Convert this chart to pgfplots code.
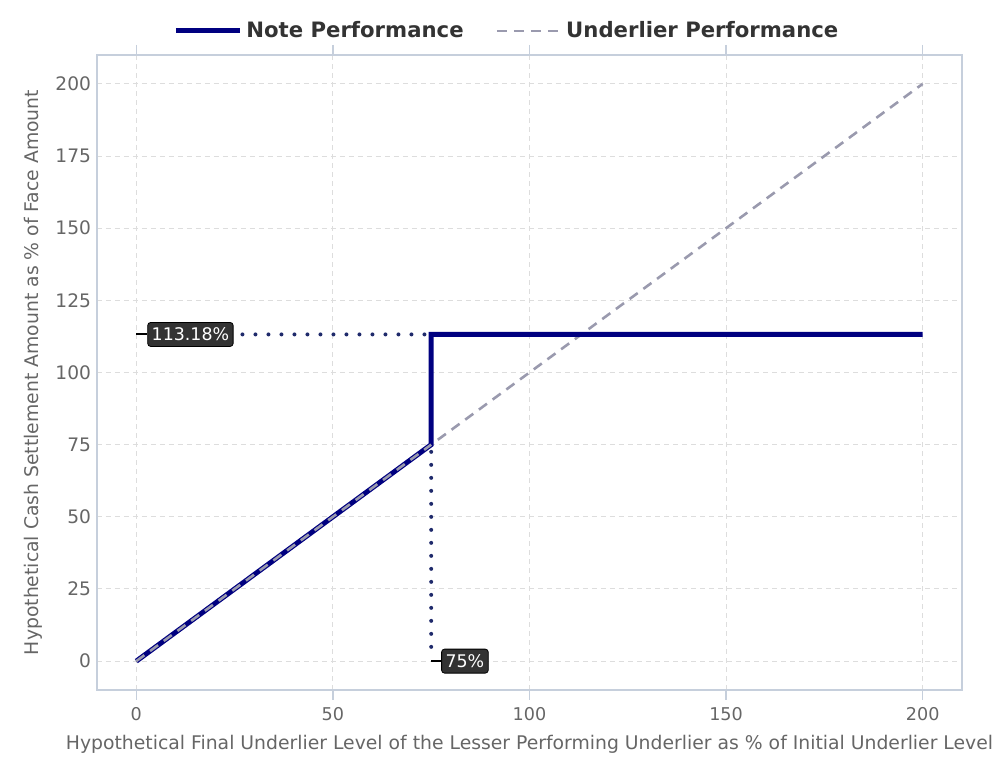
\documentclass[border=0pt]{standalone}
\usepackage{pgfplots}
\pgfplotsset{compat=1.18}
\usepackage{fontspec}
\setmainfont{DejaVu Sans}
\definecolor{navy}{HTML}{000080}
\definecolor{undl}{HTML}{9A9AAE}
\definecolor{gridc}{HTML}{DDDDDD}
\definecolor{axc}{HTML}{C6CFDC}
\definecolor{txt}{HTML}{666666}
\definecolor{legt}{HTML}{333333}
\definecolor{boxc}{HTML}{333333}
\definecolor{dotc}{HTML}{1F2A6B}
\begin{document}
\begin{tikzpicture}
\useasboundingbox (0,0) rectangle (501.5pt,384.5pt);
\begin{axis}[
  at={(48.5pt,39.5pt)}, anchor=south west,
  scale only axis, width=432.5pt, height=317.5pt,
  xmin=-10, xmax=210, ymin=-10, ymax=210,
  xtick={0,50,100,150,200},
  ytick={0,25,50,75,100,125,150,175,200},
  grid=major,
  major grid style={gridc, dash pattern=on 2.5pt off 2pt, line width=0.5pt},
  axis line style={axc, line width=0.8pt},
  xtick style={axc, line width=0.6pt},
  ytick style={draw=none},
  x tick label style={font=\fontsize{8.8}{10}\selectfont, text=txt},
  y tick label style={font=\fontsize{9.3}{10}\selectfont, text=txt, xshift=5.5pt},
  tick align=outside,
  major tick length=5pt,
  /pgf/number format/assume math mode=true,
  xlabel={Hypothetical Final Underlier Level of the Lesser Performing Underlier as \% of Initial Underlier Level},
  ylabel={Hypothetical Cash Settlement Amount as \% of Face Amount},
  xlabel style={font=\fontsize{9.4}{11}\selectfont, text=txt, at={(axis description cs:0.5,0)}, anchor=center, yshift=-27pt},
  ylabel style={font=\fontsize{9.4}{11}\selectfont, text=txt, at={(axis description cs:0,0.5)}, anchor=center, rotate=0, yshift=32pt},
  legend style={at={(0.475,1)}, anchor=center, yshift=12pt, draw=none, fill=none,
    font=\bfseries\fontsize{10.6}{12}\selectfont, text=legt, legend columns=2,
    /tikz/every even column/.append style={column sep=14pt}},
  legend image code/.code={\draw[#1] (0pt,0pt) -- (32pt,0pt);},
  clip=false,
]
\addplot[undl, line width=1.3pt, dash pattern=on 5pt off 3.5pt, forget plot] coordinates {(0,0) (200,200)};
\addplot[navy, line width=2.5pt] coordinates {(0,0) (75,75) (75,113.18) (200,113.18)};
\addlegendentry{Note Performance}
\addplot[undl, line width=1.3pt, dash pattern=on 5pt off 3.5pt] coordinates {(0,0) (75,75)};
\addlegendentry{Underlier Performance}
\addplot[dotc, line width=2pt, line cap=round, dash pattern=on 0pt off 6.5pt] coordinates {(27,113.18) (73.5,113.18)};
\addplot[dotc, line width=2pt, line cap=round, dash pattern=on 0pt off 6.5pt] coordinates {(75,72.5) (75,2.5)};
\draw[black, line width=1pt] (axis cs:0,113.18) -- ([xshift=5.5pt]axis cs:0,113.18);
\node[anchor=west, fill=boxc, draw=black, rounded corners=1.5pt, text=white, inner sep=2pt,
  font=\fontsize{8.7}{10}\selectfont, minimum height=12pt] at ([xshift=5.5pt]axis cs:0,113.18) {113.18\%};
\draw[black, line width=1pt] (axis cs:75,0) -- ([xshift=5pt]axis cs:75,0);
\node[anchor=west, fill=boxc, draw=black, rounded corners=1.5pt, text=white, inner sep=2pt,
  font=\fontsize{8.7}{10}\selectfont, minimum height=12pt] at ([xshift=5pt]axis cs:75,0) {75\%};
\end{axis}
\end{tikzpicture}
\end{document}
